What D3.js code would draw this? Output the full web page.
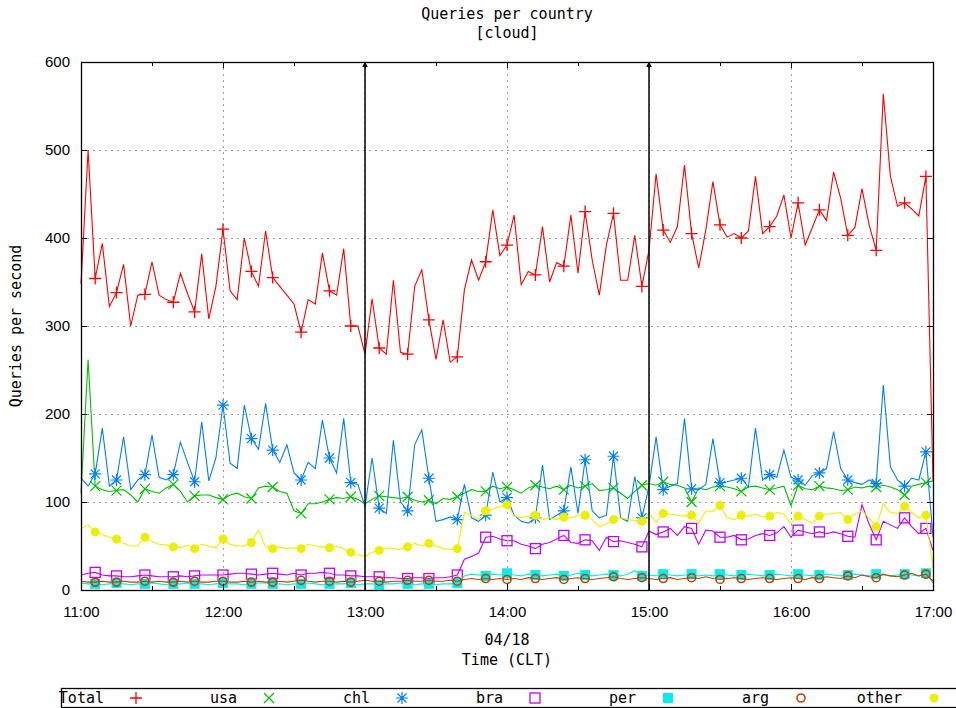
<!DOCTYPE html>
<html>
<head>
<meta charset="utf-8">
<script src="https://cdn.jsdelivr.net/npm/d3@7"></script>
<style>
  body { margin: 0; background: #fff; }
  svg { display: block; font-family: "DejaVu Sans Mono", "Liberation Mono", monospace; font-size: 15px; }
</style>
</head>
<body>
<div id="chart"></div>
<script>
// samples every 3 minutes, 11:00 -> 17:00 (121 points)
const stepMinutes = 3;

const total = [
  348, 500, 354, 394, 322, 338, 370, 300, 335, 336,
  373, 335, 330, 327, 360, 337, 316, 382, 308, 345,
  410, 340, 330, 400, 362, 345, 408, 355, 345, 335,
  325, 293, 330, 325, 383, 340, 335, 388, 300, 300,
  268, 331, 275, 268, 352, 270, 268, 345, 364, 307,
  262, 307, 259, 265, 341, 375, 352, 373, 432, 380,
  392, 426, 347, 362, 358, 413, 350, 372, 368, 426,
  360, 430, 375, 335, 392, 428, 352, 352, 403, 345,
  386, 473, 409, 395, 413, 483, 405, 366, 409, 464,
  415, 401, 405, 400, 408, 470, 405, 413, 425, 449,
  400, 440, 392, 412, 432, 420, 475, 445, 403, 412,
  456, 415, 386, 564, 470, 436, 440, 433, 425, 470,
  125
];
const usa = [
  110, 262, 118, 114, 112, 113, 114, 108, 100, 115,
  112, 110, 116, 120, 112, 100, 107, 108, 108, 105,
  103, 108, 110, 106, 104, 116, 118, 117, 112, 110,
  90, 87, 98, 98, 100, 103, 105, 104, 106, 103,
  98, 103, 107, 106, 105, 104, 106, 102, 100, 102,
  98, 104, 103, 106, 110, 114, 112, 112, 118, 115,
  117, 114, 110, 116, 119, 117, 115, 118, 114, 119,
  116, 118, 121, 113, 114, 116, 110, 104, 112, 119,
  121, 119, 123, 120, 119, 116, 100, 116, 114, 117,
  118, 117, 115, 112, 117, 118, 116, 114, 116, 118,
  96, 119, 115, 114, 118, 116, 115, 113, 114, 117,
  116, 118, 117, 119, 117, 114, 108, 118, 120, 122,
  124
];
const chl = [
  127, 118, 132, 184, 118, 125, 174, 114, 125, 131,
  176, 128, 125, 131, 168, 145, 123, 191, 124, 150,
  210, 144, 138, 210, 172, 160, 212, 159, 145, 165,
  133, 125, 145, 138, 193, 150, 133, 195, 122, 120,
  95, 150, 93, 87, 170, 100, 90, 165, 182, 127,
  78, 80, 83, 80, 120, 82, 78, 85, 134, 100,
  105, 85, 78, 76, 82, 142, 80, 85, 90, 140,
  87, 148, 90, 82, 85, 152, 82, 78, 129, 82,
  118, 174, 114, 118, 121, 195, 115, 114, 120, 172,
  122, 123, 125, 127, 117, 184, 125, 131, 128, 159,
  128, 125, 119, 130, 133, 138, 180, 138, 125, 122,
  120, 125, 121, 233, 140, 125, 118, 127, 125, 157,
  60
];
const bra = [
  17, 19, 20, 17, 16, 16, 15, 15, 16, 17,
  16, 15, 15, 15, 16, 15, 16, 17, 17, 17,
  17, 18, 19, 19, 18, 17, 18, 19, 18, 17,
  19, 17, 19, 19, 20, 19, 17, 17, 16, 16,
  15, 15, 15, 14, 14, 13, 13, 14, 14, 13,
  14, 14, 15, 17, 35, 38, 42, 60, 61, 58,
  56, 56, 52, 50, 47, 52, 54, 58, 62, 54,
  53, 57, 56, 45, 60, 55, 56, 54, 52, 49,
  67, 63, 66, 70, 62, 72, 70, 52, 68, 67,
  60, 60, 62, 57, 58, 62, 64, 62, 65, 72,
  60, 68, 66, 64, 66, 64, 66, 64, 61, 60,
  97, 75, 57, 78, 74, 70, 82, 72, 64, 70,
  45
];
const per = [
  8, 7, 7, 6, 7, 8, 7, 6, 7, 7,
  8, 7, 6, 7, 7, 8, 7, 7, 6, 7,
  8, 7, 7, 6, 7, 8, 8, 7, 7, 6,
  7, 7, 8, 7, 6, 7, 7, 7, 8, 6,
  7, 7, 6, 7, 7, 8, 7, 6, 7, 7,
  6, 7, 7, 8, 16, 18, 17, 16, 18, 17,
  19, 17, 16, 18, 17, 16, 17, 18, 16, 17,
  19, 17, 16, 17, 18, 17, 16, 18, 22, 16,
  17, 16, 18, 17, 16, 17, 18, 16, 17, 16,
  18, 17, 16, 17, 18, 17, 16, 17, 18, 17,
  16, 18, 17, 16, 17, 18, 17, 16, 17, 18,
  17, 16, 18, 17, 16, 17, 18, 17, 16, 19,
  8
];
const arg = [
  10, 9, 9, 10, 9, 9, 10, 9, 9, 10,
  9, 10, 9, 9, 10, 9, 10, 9, 9, 10,
  10, 9, 9, 10, 9, 10, 9, 9, 10, 9,
  10, 11, 10, 9, 10, 10, 9, 10, 9, 10,
  11, 10, 10, 9, 10, 10, 11, 10, 10, 11,
  10, 10, 11, 10, 12, 13, 12, 13, 12, 13,
  12, 13, 12, 14, 13, 12, 13, 14, 12, 13,
  14, 13, 12, 13, 14, 15, 13, 12, 13, 14,
  13, 12, 13, 14, 12, 13, 14, 13, 15, 13,
  12, 13, 14, 13, 12, 13, 14, 13, 12, 13,
  14, 13, 12, 14, 13, 15, 14, 13, 16, 14,
  17, 15, 14, 18, 16, 15, 17, 19, 16, 18,
  10
];
const other = [
  70, 74, 66, 63, 60, 58, 53, 50, 50, 60,
  55, 52, 51, 49, 48, 51, 47, 52, 50, 48,
  58, 52, 50, 50, 54, 68, 49, 47, 49, 47,
  48, 47, 52, 50, 49, 48, 50, 47, 43, 40,
  38, 43, 45, 48, 47, 46, 49, 53, 50, 53,
  50, 47, 46, 47, 88, 85, 80, 90, 92, 95,
  97, 84, 82, 84, 85, 80, 82, 80, 83, 82,
  85, 85, 80, 72, 75, 80, 82, 80, 79, 78,
  87, 77, 87, 86, 85, 84, 85, 76, 90, 89,
  96, 82, 80, 85, 84, 86, 83, 84, 88, 86,
  75, 84, 80, 76, 84, 86, 87, 88, 80, 86,
  90, 82, 72, 98, 88, 87, 95, 88, 82, 85,
  25
];

const seriesNames = ["Total", "usa", "chl", "bra", "per", "arg", "other"];
const seriesValues = [total, usa, chl, bra, per, arg, other];
const seriesColors = ["#ff0000", "#00c000", "#0080ff", "#c000ff", "#00eeee", "#c04000", "#eeee00"];
const seriesSymbols = ["plus", "cross", "star", "box", "boxFilled", "circle", "circleFilled"];

const yTicks = [0, 100, 200, 300, 400, 500, 600];
const arrowHours = [13, 15];
const titleLines = ["Queries per country", "[cloud]"];
const xDateLabel = "04/18";
const xAxisTitle = "Time (CLT)";
const yAxisTitle = "Queries per second";

// layout
const width = 956;
const height = 708;
const marginLeft = 81;
const marginRight = 23;
const marginTop = 62;
const marginBottom = 118;

const day = (h, m = 0) => new Date(2024, 3, 18, h, m);
const t0 = day(11);
const times = total.map((_, i) => new Date(t0.getTime() + i * stepMinutes * 60000));

const x = d3.scaleTime()
  .domain([day(11), day(17)])
  .range([marginLeft, width - marginRight]);
const y = d3.scaleLinear()
  .domain([0, 600])
  .range([height - marginBottom, marginTop]);

const svg = d3.select("#chart")
  .append("svg")
  .attr("width", width)
  .attr("height", height)
  .attr("viewBox", [0, 0, width, height]);

const plotL = marginLeft, plotR = width - marginRight;
const plotT = marginTop, plotB = height - marginBottom;

// grid
const grid = svg.append("g")
  .attr("stroke", "#a0a0a0")
  .attr("stroke-width", 1)
  .attr("stroke-dasharray", "2,4");
grid.selectAll("line.h")
  .data(yTicks.filter(d => d > 0 && d < 600))
  .join("line")
  .attr("x1", plotL).attr("x2", plotR)
  .attr("y1", d => Math.round(y(d)) + 0.5).attr("y2", d => Math.round(y(d)) + 0.5);
grid.selectAll("line.v")
  .data(d3.timeHour.range(day(12), day(17)))
  .join("line")
  .attr("x1", d => Math.round(x(d)) + 0.5).attr("x2", d => Math.round(x(d)) + 0.5)
  .attr("y1", plotT).attr("y2", plotB);

// symbol drawing
function drawSymbol(g, type, color) {
  if (type === "plus") {
    g.append("path").attr("d", "M-6,0H6M0,-6V6").attr("stroke", color).attr("stroke-width", 1.3).attr("fill", "none");
  } else if (type === "cross") {
    g.append("path").attr("d", "M-5,-5L5,5M-5,5L5,-5").attr("stroke", color).attr("stroke-width", 1.2).attr("fill", "none");
  } else if (type === "star") {
    g.append("path").attr("d", "M-6,0H6M0,-6V6M-4.5,-4.5L4.5,4.5M-4.5,4.5L4.5,-4.5").attr("stroke", color).attr("stroke-width", 1.2).attr("fill", "none");
  } else if (type === "box") {
    g.append("rect").attr("x", -5).attr("y", -5).attr("width", 10).attr("height", 10)
      .attr("stroke", color).attr("stroke-width", 1.3).attr("fill", "none");
  } else if (type === "boxFilled") {
    g.append("rect").attr("x", -5).attr("y", -5).attr("width", 10).attr("height", 10).attr("fill", color);
  } else if (type === "circle") {
    g.append("circle").attr("r", 4).attr("stroke", color).attr("stroke-width", 1.6).attr("fill", "none");
  } else {
    g.append("circle").attr("r", 4.5).attr("fill", color);
  }
}

// series lines + point markers (gnuplot-like point interval)
const markerMinutes = d3.range(33).map(k => 4.6 + 11.03 * k);
const markerIdx = markerMinutes.map(m => Math.round(m / stepMinutes));

const line = d3.line()
  .x((d, i) => x(times[i]))
  .y(d => y(d));

seriesValues.forEach((vals, s) => {
  svg.append("path")
    .datum(vals)
    .attr("fill", "none")
    .attr("stroke", seriesColors[s])
    .attr("stroke-width", 1.1)
    .attr("stroke-linejoin", "miter")
    .attr("d", line);
  const mg = svg.append("g");
  markerIdx.forEach(i => {
    const g = mg.append("g").attr("transform", `translate(${x(times[i])},${y(vals[i])})`);
    drawSymbol(g, seriesSymbols[s], seriesColors[s]);
  });
});

// arrows at 13:00 and 15:00
const defs = svg.append("defs");
defs.append("marker")
  .attr("id", "arrowhead")
  .attr("viewBox", "0 0 10 10")
  .attr("refX", 9).attr("refY", 5)
  .attr("markerWidth", 6).attr("markerHeight", 8)
  .attr("markerUnits", "userSpaceOnUse")
  .attr("orient", "auto")
  .append("path")
  .attr("d", "M0,0L10,5L0,10Z")
  .attr("fill", "#000");
svg.append("g")
  .selectAll("line")
  .data(arrowHours)
  .join("line")
  .attr("x1", d => x(day(d))).attr("x2", d => x(day(d)))
  .attr("y1", plotB).attr("y2", plotT)
  .attr("stroke", "#000")
  .attr("stroke-width", 1.5)
  .attr("marker-end", "url(#arrowhead)");

// axes (ticks inward, like gnuplot)
const hourTicks = d3.timeHour.range(day(11), day(17, 1));
const halfTicks = d3.timeMinute.every(30).range(day(11), day(17, 1)).filter(d => d.getMinutes() === 30);

svg.append("g")
  .attr("transform", `translate(0,${plotB})`)
  .call(d3.axisBottom(x).tickValues(hourTicks).tickFormat(d3.timeFormat("%H:%M")).tickSize(-6).tickPadding(16))
  .call(g => g.select(".domain").remove())
  .call(g => g.selectAll("text").attr("font-size", 15).attr("fill", "#000"));
svg.append("g")
  .attr("transform", `translate(0,${plotB})`)
  .call(d3.axisBottom(x).tickValues(halfTicks).tickFormat("").tickSize(-4))
  .call(g => g.select(".domain").remove());
svg.append("g")
  .attr("transform", `translate(0,${plotT})`)
  .call(d3.axisTop(x).tickValues(hourTicks).tickFormat("").tickSize(-6))
  .call(g => g.select(".domain").remove());
svg.append("g")
  .attr("transform", `translate(0,${plotT})`)
  .call(d3.axisTop(x).tickValues(halfTicks).tickFormat("").tickSize(-4))
  .call(g => g.select(".domain").remove());
svg.append("g")
  .attr("transform", `translate(${plotL},0)`)
  .call(d3.axisLeft(y).tickValues(yTicks).tickSize(-6).tickPadding(11))
  .call(g => g.select(".domain").remove())
  .call(g => g.selectAll("text").attr("font-size", 15).attr("fill", "#000"));
svg.append("g")
  .attr("transform", `translate(${plotR},0)`)
  .call(d3.axisRight(y).tickValues(yTicks).tickFormat("").tickSize(-6))
  .call(g => g.select(".domain").remove());

svg.selectAll(".tick line").attr("stroke", "#000");

// border
svg.append("rect")
  .attr("x", plotL + 0.5).attr("y", plotT + 0.5)
  .attr("width", plotR - plotL).attr("height", plotB - plotT)
  .attr("fill", "none")
  .attr("stroke", "#000")
  .attr("stroke-width", 1.3);

// titles
const cx = (plotL + plotR) / 2;
svg.append("g")
  .attr("text-anchor", "middle")
  .selectAll("text")
  .data(titleLines)
  .join("text")
  .attr("x", cx)
  .attr("y", (d, i) => 19 + i * 19)
  .text(d => d);
svg.append("text")
  .attr("x", cx).attr("y", 645)
  .attr("text-anchor", "middle")
  .text(xDateLabel);
svg.append("text")
  .attr("x", cx).attr("y", 665)
  .attr("text-anchor", "middle")
  .text(xAxisTitle);
svg.append("text")
  .attr("transform", `translate(21,${(plotT + plotB) / 2}) rotate(-90)`)
  .attr("text-anchor", "middle")
  .text(yAxisTitle);

// key box along the bottom
const key = svg.append("g");
key.append("rect")
  .attr("x", 61.5).attr("y", 688.5)
  .attr("width", 920).attr("height", 19)
  .attr("fill", "none")
  .attr("stroke", "#000")
  .attr("stroke-width", 1.3);
seriesNames.forEach((name, s) => {
  key.append("text")
    .attr("x", 104 + 133 * s)
    .attr("y", 703)
    .attr("text-anchor", "end")
    .text(name);
  const g = key.append("g").attr("transform", `translate(${136 + 133 * s},698)`);
  drawSymbol(g, seriesSymbols[s], seriesColors[s]);
});
</script>
</body>
</html>
